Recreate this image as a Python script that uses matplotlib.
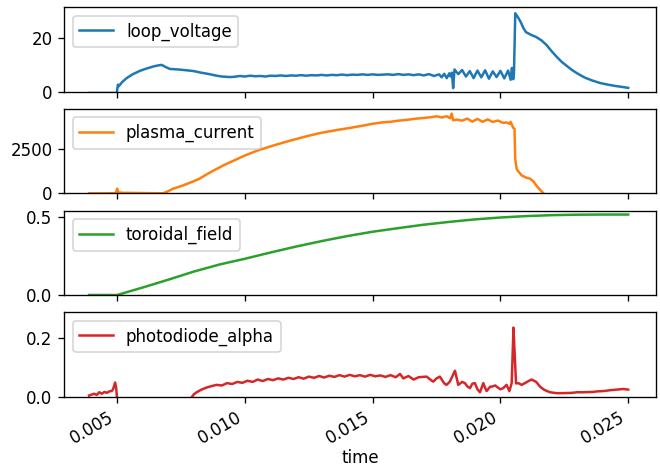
import matplotlib
matplotlib.use("Agg")
import matplotlib.pyplot as plt

# ---- data ----
t_loop = [0.0039, 0.0045, 0.00499, 0.00500, 0.00503, 0.00506, 0.0052, 0.00537, 0.0056, 0.00589,
          0.0061, 0.00641, 0.0066, 0.00674, 0.0069, 0.00706, 0.0074, 0.00772, 0.0080, 0.00824,
          0.0086, 0.00889, 0.0091, 0.00941,
          0.0096, 0.0098, 0.0100, 0.0102, 0.0104, 0.0106, 0.0108, 0.0110, 0.0112, 0.0114,
          0.0116, 0.0118, 0.0120, 0.0122, 0.0124, 0.0126, 0.0128, 0.0130, 0.0132, 0.0134,
          0.0136, 0.0138, 0.0140, 0.0142, 0.0144, 0.0146, 0.0148, 0.0150, 0.0152, 0.0154,
          0.0156, 0.0158, 0.0160, 0.0162, 0.0164, 0.0166, 0.0168, 0.0170, 0.0172, 0.0174,
          0.0176, 0.0177, 0.0178, 0.0179, 0.0180, 0.01805, 0.0181, 0.01815, 0.0182,
          0.01835, 0.0185, 0.01865, 0.0188, 0.01895, 0.0191, 0.01925, 0.0194, 0.01955, 0.0197,
          0.01985, 0.0200, 0.02015, 0.0203, 0.0204, 0.02045, 0.0205, 0.02053, 0.02056, 0.02058,
          0.0207, 0.0208, 0.0209, 0.0210, 0.0212, 0.0214, 0.0216, 0.0218, 0.0220, 0.0222,
          0.0224, 0.0226, 0.0228, 0.0230, 0.0233, 0.0236, 0.0239, 0.0242, 0.0245, 0.0248, 0.0250]
loop_voltage = [-0.5, -0.5, -0.5, 0.6, 2.6, 2.0, 3.6, 5.0, 6.4, 7.7,
                8.4, 9.3, 9.7, 9.9, 9.1, 8.4, 8.2, 7.9, 7.6, 7.1,
                6.5, 5.9, 5.6, 5.4,
                5.5, 5.8, 5.6, 5.9, 5.7, 5.8, 5.6, 5.9, 5.8, 6.0,
                5.8, 6.0, 5.9, 6.1, 5.9, 6.1, 6.0, 6.2, 6.0, 6.2,
                6.1, 6.3, 6.1, 6.3, 6.2, 6.4, 6.2, 6.4, 6.2, 6.3,
                6.4, 6.2, 6.5, 6.2, 6.4, 6.1, 6.4, 6.0, 6.5, 5.8,
                6.4, 5.3, 6.6, 5.0, 6.8, 5.6, 7.0, 1.3, 8.2,
                6.5, 8.0, 5.6, 7.6, 5.0, 7.8, 5.3, 7.9, 4.8, 7.5,
                5.4, 7.7, 4.9, 7.8, 4.4, 8.8, 4.6, 7.0, 20.0, 29.0,
                27.3, 25.6, 23.5, 22.0, 21.0, 20.2, 19.0, 17.3, 15.0, 12.9,
                11.0, 9.5, 8.0, 6.8, 5.2, 4.1, 3.2, 2.6, 2.1, 1.7, 1.4]

t_current = [0.0039, 0.0045, 0.00495, 0.00500, 0.00503, 0.0052, 0.0060, 0.0068, 0.0070, 0.00719,
             0.0075, 0.00785, 0.0082, 0.0085, 0.0088, 0.00915, 0.0096, 0.0100, 0.0105, 0.01111,
             0.0118, 0.01242, 0.0130, 0.0136, 0.01411, 0.0146, 0.0150, 0.01541, 0.0157, 0.0160,
             0.0163, 0.01672, 0.0170, 0.0173, 0.01751, 0.0177, 0.0179, 0.01803, 0.01809, 0.01815,
             0.0183, 0.0185, 0.0187, 0.0189, 0.0191, 0.0193, 0.0195, 0.0197, 0.0199, 0.0201,
             0.02025, 0.02035, 0.02040, 0.02050, 0.02055, 0.02058, 0.02064, 0.02083, 0.0210, 0.02116,
             0.0213, 0.02142, 0.0215, 0.02166]
plasma_current = [0, 0, 10, 260, 60, 30, 15, 0, 120, 260,
                  400, 593, 800, 1055, 1290, 1555, 1850, 2111, 2390, 2667,
                  2950, 3185, 3380, 3530, 3648, 3770, 3880, 3963, 3990, 4050,
                  4090, 4167, 4200, 4250, 4296, 4230, 4300, 4190, 4444, 4074,
                  4110, 4050, 4170, 4000, 4150, 3990, 4120, 3980, 4060, 3930,
                  3950, 3880, 3990, 3650, 3600, 1889, 1333, 1000, 880, 815,
                  650, 407, 280, 37]

t_field = [0.0039, 0.0050, 0.0060, 0.0070, 0.0080, 0.0090, 0.0100, 0.0110, 0.0120, 0.0130,
           0.0140, 0.0150, 0.0160, 0.0170, 0.0180, 0.0190, 0.0200, 0.0210, 0.0220, 0.0230,
           0.0240, 0.0250]
toroidal_field = [0.0, 0.0, 0.048, 0.098, 0.150, 0.195, 0.232, 0.272, 0.310, 0.345,
                  0.377, 0.405, 0.428, 0.450, 0.468, 0.484, 0.496, 0.505, 0.511, 0.514,
                  0.515, 0.515]

t_diode = [0.0039, 0.0041, 0.0042, 0.0043, 0.0044, 0.0045, 0.0046, 0.0047, 0.0048, 0.00485,
           0.00492, 0.00496, 0.0050, 0.0060, 0.0070, 0.00785, 0.0080, 0.00811, 0.0083, 0.0085,
           0.0087, 0.00889, 0.0091, 0.0093, 0.0095, 0.0097, 0.0099, 0.0101, 0.0103, 0.0105,
           0.0107, 0.0109, 0.0111, 0.0113, 0.0115, 0.0117, 0.0119, 0.0121, 0.0123, 0.0125,
           0.0127, 0.0129, 0.0131, 0.0133, 0.0135, 0.0137, 0.0139, 0.0141, 0.0143, 0.0145,
           0.0147, 0.0149, 0.0151, 0.0153, 0.0155, 0.0157, 0.0159, 0.01607, 0.0162, 0.0164,
           0.0166, 0.0168, 0.01711, 0.0173, 0.01737, 0.0175, 0.01763, 0.0178, 0.01789, 0.01802,
           0.01822, 0.01835, 0.0185, 0.01861, 0.0187, 0.01881, 0.0189, 0.0190, 0.0191, 0.0192,
           0.01933, 0.0194, 0.01946, 0.0196, 0.01966, 0.0198, 0.01985, 0.0200, 0.02011, 0.02024,
           0.02035, 0.02044, 0.02048, 0.02051, 0.02055, 0.02061, 0.02070, 0.02083, 0.02096, 0.0211,
           0.02122, 0.0214, 0.02155, 0.0217, 0.0218, 0.02194, 0.0222, 0.02246, 0.0228, 0.0230,
           0.02325, 0.0236, 0.0238, 0.02403, 0.0243, 0.02455, 0.0248, 0.0250]
photodiode_alpha = [0.004, 0.010, 0.006, 0.015, 0.010, 0.016, 0.013, 0.018, 0.020, 0.028,
                    0.048, 0.030, -0.01, -0.01, -0.01, -0.01, 0.008, 0.015, 0.024, 0.031,
                    0.036, 0.040, 0.038, 0.046, 0.043, 0.050, 0.047, 0.054, 0.050, 0.058,
                    0.053, 0.060, 0.056, 0.062, 0.058, 0.064, 0.060, 0.066, 0.061, 0.068,
                    0.064, 0.070, 0.065, 0.071, 0.067, 0.073, 0.068, 0.074, 0.069, 0.073,
                    0.068, 0.074, 0.069, 0.072, 0.067, 0.073, 0.066, 0.077, 0.062, 0.070,
                    0.058, 0.066, 0.068, 0.055, 0.051, 0.062, 0.068, 0.045, 0.040, 0.051,
                    0.088, 0.040, 0.050, 0.046, 0.035, 0.029, 0.044, 0.046, 0.025, 0.015,
                    0.046, 0.030, 0.019, 0.034, 0.034, 0.038, 0.034, 0.025, 0.029, 0.040,
                    0.019, 0.046, 0.150, 0.234, 0.160, 0.045, 0.046, 0.040, 0.046, 0.053,
                    0.058, 0.050, 0.034, 0.024, 0.020, 0.015, 0.012, 0.012, 0.013, 0.015,
                    0.015, 0.016, 0.018, 0.019, 0.022, 0.024, 0.026, 0.024]

series = [
    ("loop_voltage", t_loop, loop_voltage, "#1f77b4", 31.2, [0, 20], ["0", "20"]),
    ("plasma_current", t_current, plasma_current, "#ff7f0e", 4705, [0, 2500], ["0", "2500"]),
    ("toroidal_field", t_field, toroidal_field, "#2ca02c", 0.54, [0.0, 0.5], ["0.0", "0.5"]),
    ("photodiode_alpha", t_diode, photodiode_alpha, "#d62728", 0.286, [0.0, 0.2], ["0.0", "0.2"]),
]
xticks = [0.005, 0.010, 0.015, 0.020, 0.025]
xticklabels = ["0.005", "0.010", "0.015", "0.020", "0.025"]

fig, axes = plt.subplots(4, 1, sharex=True, figsize=(5.5, 470 / 120), dpi=120)
fig.subplots_adjust(left=0.0974, right=0.994, top=0.9845, bottom=0.156, hspace=0.205)

for ax, (name, t, v, c, ytop, yt, ytl) in zip(axes, series):
    ax.plot(t, v, color=c, lw=1.5, label=name)
    ax.set_ylim(0, ytop)
    ax.set_yticks(yt)
    ax.set_yticklabels(ytl)
    ax.legend(loc="upper left")

axes[-1].set_xlim(0.00293, 0.02609)
axes[-1].set_xticks(xticks)
axes[-1].set_xticklabels(xticklabels)
for lab in axes[-1].get_xticklabels():
    lab.set_rotation(30)
    lab.set_ha("right")
axes[-1].set_xlabel("time", labelpad=1.0)

fig.savefig("out.png", dpi=120)
